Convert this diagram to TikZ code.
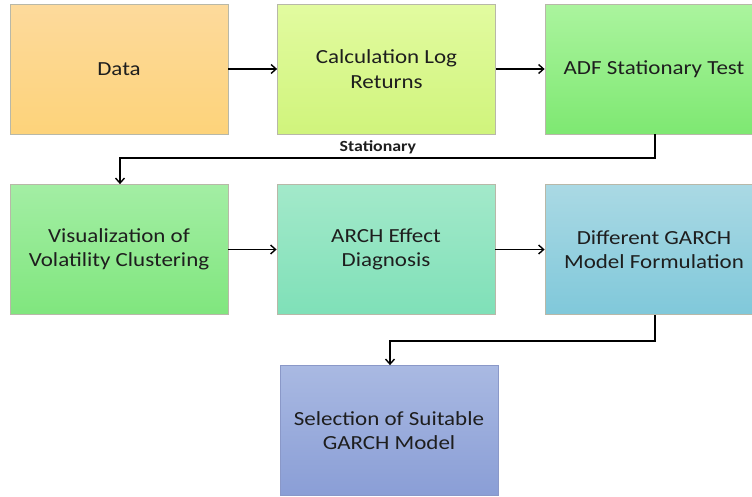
\documentclass[tikz,border=0pt]{standalone}
\usepackage{fontspec}
\setmainfont{Carlito}[FakeStretch=1.15]
\usetikzlibrary{arrows.meta}
\definecolor{bordc}{HTML}{B8B8A8}
\definecolor{selbord}{HTML}{8A98C8}
\definecolor{txt}{HTML}{1E1E1E}
\definecolor{c1t}{HTML}{FDDA9C}\definecolor{c1b}{HTML}{FDD37A}
\definecolor{c2t}{HTML}{E2FBA0}\definecolor{c2b}{HTML}{D0F47C}
\definecolor{c3t}{HTML}{ABF49E}\definecolor{c3b}{HTML}{7EE872}
\definecolor{c4t}{HTML}{A3EEA4}\definecolor{c4b}{HTML}{80E67E}
\definecolor{c5t}{HTML}{A3E9CA}\definecolor{c5b}{HTML}{7FE0B8}
\definecolor{c6t}{HTML}{AAD9E4}\definecolor{c6b}{HTML}{80C8DA}
\definecolor{c7t}{HTML}{A9B9E2}\definecolor{c7b}{HTML}{8A9ED6}
\tikzset{
  box/.style={draw=bordc, line width=0.8pt, minimum width=218pt, minimum height=130pt,
    align=center, font=\fontsize{20}{24.5}\selectfont, text=txt, inner sep=0pt},
  conn/.style={line width=1.6pt, -{Straight Barb[length=5pt,width=9pt,line width=1.4pt]}},
}
\begin{document}
\begin{tikzpicture}[x=1pt,y=-1pt]
\useasboundingbox (0,0) rectangle (752,496);
\node[box, top color=c1t, bottom color=c1b] (data) at (119,69) {Data};
\node[box, top color=c2t, bottom color=c2b] (calc) at (386.5,69) {Calculation Log\\Returns};
\node[box, top color=c3t, bottom color=c3b] (adf) at (654,69) {ADF Stationary Test};
\node[box, top color=c4t, bottom color=c4b] (vis) at (119,249.5) {Visualization of\\Volatility Clustering};
\node[box, top color=c5t, bottom color=c5b] (arch) at (386,249.5) {ARCH Effect\\Diagnosis};
\node[box, top color=c6t, bottom color=c6b] (diff) at (654,249.5) {Different GARCH\\Model Formulation};
\node[box, draw=selbord, top color=c7t, bottom color=c7b] (sel) at (389,430.5) {Selection of Suitable\\GARCH Model};
\draw[conn] (data.east) -- (calc.west);
\draw[conn] (calc.east) -- (adf.west);
\draw[conn] (vis.east) -- (arch.west);
\draw[conn] (arch.east) -- (diff.west);
\coordinate (a1) at (655,158);
\coordinate (a2) at (120,158);
\draw[conn] (adf.south -| a1) -- (a1) -- node[above=0pt, pos=0.518, text=txt, font=\bfseries\fontsize{15.5}{16}\selectfont] (stlab) {Stationary} (a2) -- (a2 |- vis.north);
\coordinate (b1) at (655,341);
\coordinate (b2) at (390,341);
\draw[conn] (diff.south -| b1) -- (b1) -- (b2) -- (b2 |- sel.north);
\end{tikzpicture}
\end{document}
